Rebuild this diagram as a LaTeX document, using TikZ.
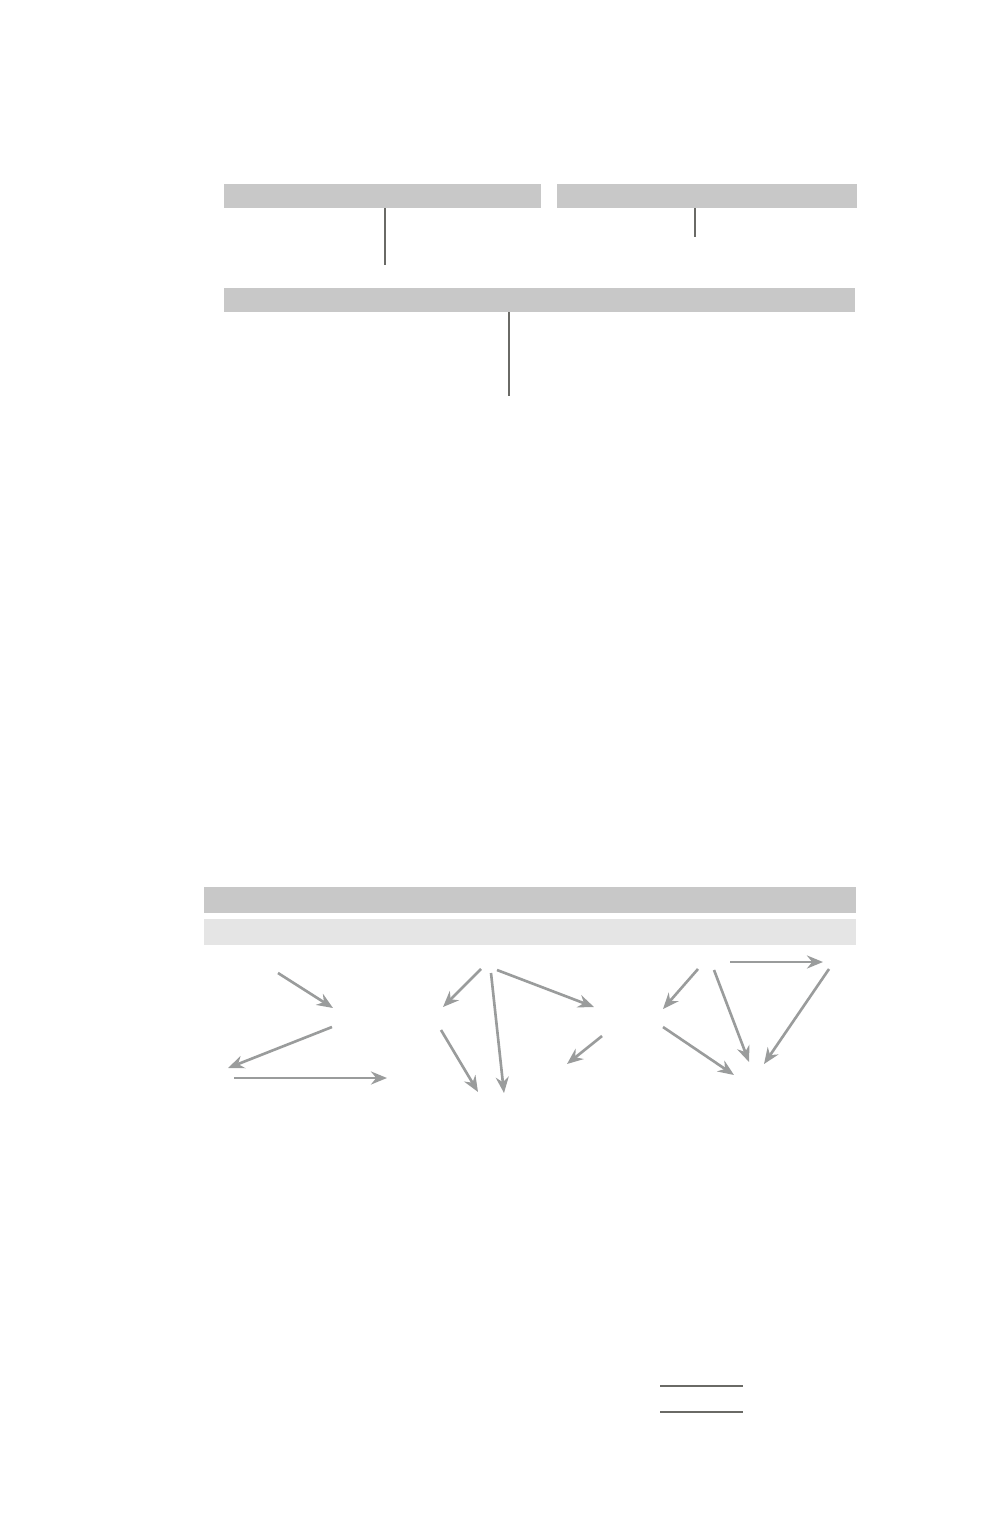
\documentclass[tikz,border=0pt]{standalone}
\usepackage{xcolor}
\usepackage{tikz}
\usetikzlibrary{positioning,arrows.meta}

\definecolor{bardark}{HTML}{C8C8C8}
\definecolor{barlight}{HTML}{E5E5E5}
\definecolor{arrowgray}{HTML}{9A9C9C}
\definecolor{stemgray}{HTML}{6A6A66}

\tikzset{
  bar/.style={fill=bardark, inner sep=0pt, outer sep=0pt},
  lightbar/.style={fill=barlight, inner sep=0pt, outer sep=0pt},
  stem/.style={draw=stemgray, line width=0.45pt},
  garrow/.style={draw=arrowgray, line width=0.75pt, -{Stealth[length=1.6mm, width=1.3mm]}},
}

\begin{document}
\begin{tikzpicture}[x=0.01cm, y=-0.01cm]
\useasboundingbox (0,0) rectangle (1000,1528);


\node[bar, minimum width=3.17cm, minimum height=0.24cm] (T1) at (382.5,196) {};
\node[bar, minimum width=3.00cm, minimum height=0.24cm] (T2) at (707,196) {};
\node[bar, minimum width=6.31cm, minimum height=0.24cm] (M) at (539.5,300) {};

\coordinate (S1) at (385,265);
\coordinate (S2) at (695,237);
\coordinate (S3) at (509,396);

\draw[stem] (T1.south -| S1) -- (S1);
\draw[stem] (T2.south -| S2) -- (S2);
\draw[stem] (M.south -| S3) -- (S3);


\node[bar, minimum width=6.52cm, minimum height=0.26cm] (H1) at (530,900) {};
\node[lightbar, minimum width=6.52cm, minimum height=0.26cm] (H2) at (530,932) {};

% left group
\coordinate (A1) at (278,973);  \coordinate (B1) at (333,1008);
\coordinate (A2) at (332,1027); \coordinate (B2) at (228,1068);
\coordinate (A3) at (234,1078); \coordinate (B3) at (387,1078);

\draw[garrow] (A1) -- (B1);
\draw[garrow] (A2) -- (B2);
\draw[garrow] (A3) -- (B3);

% middle group
\coordinate (A4) at (481,969);  \coordinate (B4) at (443,1007);
\coordinate (A5) at (491,973);  \coordinate (B5) at (504,1093);
\coordinate (A6) at (497,970);  \coordinate (B6) at (594,1007);
\coordinate (A7) at (441,1030); \coordinate (B7) at (478,1092);
\coordinate (A8) at (602,1036); \coordinate (B8) at (567,1064);

\draw[garrow] (A4) -- (B4);
\draw[garrow] (A5) -- (B5);
\draw[garrow] (A6) -- (B6);
\draw[garrow] (A7) -- (B7);
\draw[garrow] (A8) -- (B8);

% right group
\coordinate (A9) at (698,969);   \coordinate (B9) at (663,1009);
\coordinate (A10) at (714,970);  \coordinate (B10) at (749,1062);
\coordinate (A11) at (730,962);  \coordinate (B11) at (823,962);
\coordinate (A12) at (829,969);  \coordinate (B12) at (764,1064);
\coordinate (A13) at (663,1027); \coordinate (B13) at (734,1075);

\draw[garrow] (A9) -- (B9);
\draw[garrow] (A10) -- (B10);
\draw[garrow] (A11) -- (B11);
\draw[garrow] (A12) -- (B12);
\draw[garrow] (A13) -- (B13);


\coordinate (L1) at (660,1386); \coordinate (R1) at (743,1386);
\coordinate (L2) at (660,1412); \coordinate (R2) at (743,1412);
\draw[stem] (L1) -- (R1);
\draw[stem] (L2) -- (R2);
\end{tikzpicture}
\end{document}
